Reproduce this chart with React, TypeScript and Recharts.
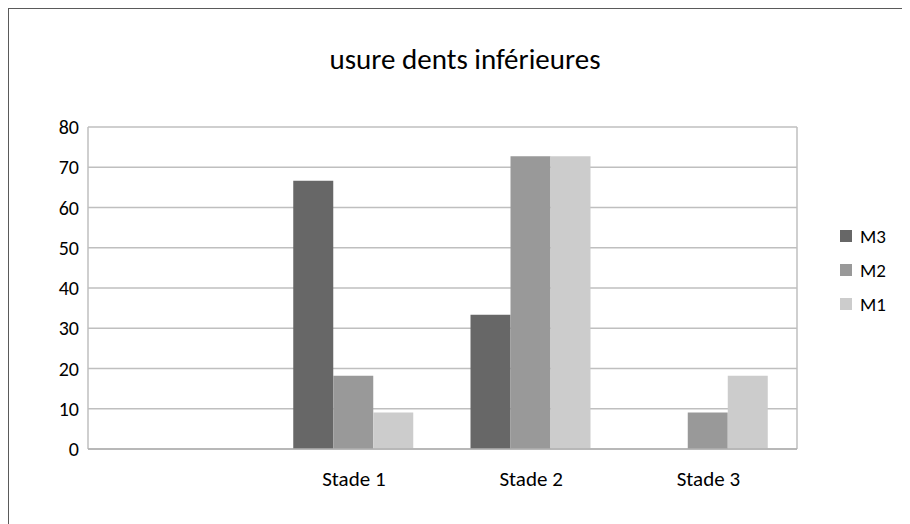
import React from 'react';
import { BarChart, Bar, XAxis, YAxis, CartesianGrid, Legend } from 'recharts';

const categories = ['', 'Stade 1', 'Stade 2', 'Stade 3'];
const m3 = [0, 66.67, 33.33, 0];
const m2 = [0, 18.18, 72.73, 9.09];
const m1 = [0, 9.09, 72.73, 18.18];
const yTicks = [0, 10, 20, 30, 40, 50, 60, 70, 80];
const seriesOrder = ['M3', 'M2', 'M1'];

const data = categories.map((c, i) => ({ name: c, M3: m3[i], M2: m2[i], M1: m1[i] }));

const font = 'Carlito, Lato, "Open Sans", sans-serif';

const renderLegend = (props: any) => {
  const items = [...(props.payload || [])].sort(
    (a: any, b: any) => seriesOrder.indexOf(a.value) - seriesOrder.indexOf(b.value)
  );
  return (
    <div style={{ fontFamily: font, fontSize: 19, color: '#000' }}>
      {items.map((it: any) => (
        <div key={it.value} style={{ display: 'flex', alignItems: 'center', height: 34 }}>
          <span style={{ width: 12, height: 12, background: it.color, display: 'inline-block', marginRight: 8 }} />
          <span>{it.value}</span>
        </div>
      ))}
    </div>
  );
};

export default function App() {
  return (
    <div style={{ position: 'relative', width: 901, height: 515, borderLeft: '1px solid #5a5a5a', borderTop: '1px solid #5a5a5a', background: '#fff' }}>
      <div style={{ position: 'absolute', left: 0, width: 912, top: 33, lineHeight: '35px', textAlign: 'center', fontFamily: font, fontSize: 29, color: '#000' }}>
        usure dents inférieures
      </div>
      <BarChart width={901} height={515} data={data} margin={{ top: 118, right: 113, bottom: 45, left: 20 }} barCategoryGap="15.8%" barGap={0}>
        <CartesianGrid
          stroke="#bfbfbf"
          strokeWidth={1.5}
          verticalCoordinatesGenerator={({ offset }: any) => [offset.left, offset.left + offset.width]}
        />
        <XAxis dataKey="name" tickLine={false} tickSize={0} tickMargin={22} axisLine={{ stroke: '#b0b0b0', strokeWidth: 1.5 }} tick={{ fontFamily: font, fontSize: 21, fill: '#000' }} interval={0} />
        <YAxis domain={[0, 80]} ticks={yTicks} width={59} tickLine={false} tickSize={0} tickMargin={9} axisLine={false} tick={{ fontFamily: font, fontSize: 20, fill: '#000' }} />
        <Legend layout="vertical" align="center" verticalAlign="middle" content={renderLegend} wrapperStyle={{ left: 831, top: 210, width: 70, bottom: 'auto' }} />
        <Bar dataKey="M3" fill="#676767" isAnimationActive={false} />
        <Bar dataKey="M2" fill="#999999" isAnimationActive={false} />
        <Bar dataKey="M1" fill="#cccccc" isAnimationActive={false} />
      </BarChart>
    </div>
  );
}
